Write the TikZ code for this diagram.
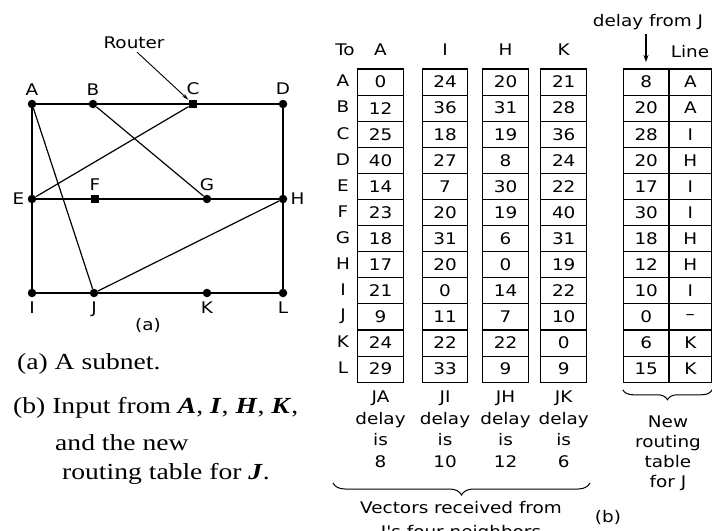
\documentclass[tikz,border=0pt]{standalone}
\usepackage{fontspec}
\newfontfamily\figfont{DejaVu Sans}[FakeStretch=1.15]
\newfontfamily\capfont{Liberation Serif}[FakeStretch=1.2]
\usetikzlibrary{positioning,arrows.meta,decorations.pathreplacing}
\tikzset{lbl/.style={font=\figfont\fontsize{16}{20}\selectfont,inner sep=0pt},
  router/.style={circle,fill=black,inner sep=0pt,minimum size=8.5pt},
  link/.style={line width=1.2pt},
  cell/.style={draw,line width=1.1pt,minimum width=45.5pt,minimum height=26.1pt,
    inner sep=0pt,font=\figfont\fontsize{16}{20}\selectfont},
  captxt/.style={font=\capfont\fontsize{23}{26}\selectfont,anchor=base west,inner sep=0pt},
  brc/.style={decorate,line width=1pt,decoration={brace,mirror,amplitude=#1}}}
% one column of a table, 12 rows starting at y=69
\newcommand{\vcol}[4]{%
  \foreach \v [count=\i] in {#4}
    \node[cell,minimum width=#3] (#2-\i) at (#1,{69+26.1*(\i-0.5)}) {\v};}

\begin{document}
\begin{tikzpicture}[x=1pt,y=-1pt,>=Stealth]
  \useasboundingbox (0,0) rectangle (712,530);
  % (a) the subnet
  \node[router,label={[lbl,yshift=4pt]above:A}] (A) at (32,104) {};
  \node[router,label={[lbl,yshift=4pt]above:B}] (B) at (93,104) {};
  \node[router,rectangle,label={[lbl,yshift=5pt]above:C}] (C) at (193,104) {};
  \node[router,label={[lbl,yshift=5pt]above:D}] (D) at (283,104) {};
  \node[router,label={[lbl,xshift=-3pt]left:E}] (E) at (32,199) {};
  \node[router,rectangle,label={[lbl,yshift=4pt]above:F}] (F) at (95,199) {};
  \node[router,label={[lbl,yshift=4pt]above:G}] (G) at (207,199) {};
  \node[router,label={[lbl,xshift=3pt]right:H}] (H) at (283,199) {};
  \node[router,label={[lbl,yshift=-4pt]below:I}] (I) at (32,293) {};
  \node[router,label={[lbl,yshift=-4pt]below:J}] (J) at (94,293) {};
  \node[router,label={[lbl,yshift=-4pt]below:K}] (K) at (207,293) {};
  \node[router,label={[lbl,yshift=-4pt]below:L}] (L) at (283,293) {};
  \foreach \a/\b in {A/B,B/C,C/D,E/F,F/G,G/H,I/J,J/K,K/L,A/E,E/I,D/H,H/L,B/G,C/E,A/J,J/H}
    \draw[link] (\a) -- (\b);
  \node[lbl] (rtr) at (134,43) {Router};
  \draw[line width=0.9pt,-{Stealth[length=7pt,width=3.5pt]}] ([xshift=3pt,yshift=-3pt]rtr.south) -- (C);
  \node[lbl] (capa) at (148,325) {(a)};
  % captions
  \node[captxt] (ta) at (17,369) {(a) A subnet.};
  \node[captxt] (tb) at (13,413) {(b) Input from \textbf{\textit{A}}, \textbf{\textit{I}}, \textbf{\textit{H}}, \textbf{\textit{K}},};
  \node[captxt] (tc) at (55,450) {and the new};
  \node[captxt] (td) at (62,479) {routing table for \textbf{\textit{J}}.};
  % (b) the vectors
  \node[lbl] (to) at (345,50) {To};
  \foreach \n/\x in {A/380.5,I/445,H/505.5,K/563.7}
    \node[lbl] (hd\n) at (\x,50) {\n};
  \foreach \r [count=\i] in {A,B,C,D,E,F,G,H,I,J,K,L}
    \node[lbl] (row\r) at (343,{69+26.1*(\i-0.5)-1}) {\r};
  \vcol{380.5}{vA}{45.5pt}{0,12,25,40,14,23,18,17,21,9,24,29}
  \vcol{445}{vI}{45.5pt}{24,36,18,27,7,20,31,20,0,11,22,33}
  \vcol{505.5}{vH}{45.5pt}{20,31,19,8,30,19,6,0,14,7,22,9}
  \vcol{563.7}{vK}{46pt}{21,28,36,24,22,40,31,19,22,10,0,9}
  \vcol{646.2}{nd}{45.7pt}{8,20,28,20,17,30,18,12,10,0,6,15}
  \vcol{690.3}{nl}{42.6pt}{A,A,I,H,I,I,H,H,I,–,K,K}
  \foreach \n/\x/\d in {A/380.5/8,I/445/10,H/505.5/12,K/563.7/6}
    \node[lbl,align=center,anchor=north,font=\figfont\fontsize{16}{21.5}\selectfont]
      (dl\n) at (\x,391) {J\n\\delay\\is\\\d};
  % new table for J
  \node[lbl] (dfj) at (648,22) {delay from J};
  \coordinate (dtip) at (646,62);
  \draw[line width=1.2pt,-{Stealth[length=7pt,width=5pt]}] (dfj.south -| dtip) ++(0,4) -- (dtip);
  \node[lbl] (line) at (690,52) {Line};
  \draw[brc=10pt] (nd-12.south west) ++(0,7) -- ([yshift=-7pt]nl-12.south east);
  \node[lbl,align=center,anchor=north,font=\figfont\fontsize{16}{20}\selectfont]
    (newt) at (668,416) {New\\routing\\table\\for J};
  % vectors brace
  \coordinate (bl) at (333,483);
  \coordinate (br) at (590,483);
  \draw[brc=12pt] (bl) -- (br);
  \node[lbl] (vec) at (461,508) {Vectors received from};
  \node[lbl,anchor=north] (nbr) at (461,525) {J's four neighbors};
  \node[lbl] (capb) at (608,517) {(b)};
\end{tikzpicture}
\end{document}
